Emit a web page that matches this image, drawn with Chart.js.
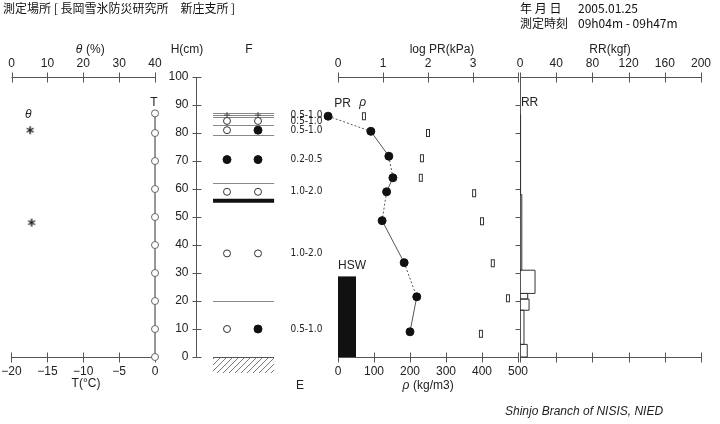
<!DOCTYPE html>
<html lang="ja">
<head>
    <meta charset="UTF-8" />
    <title>積雪断面観測 2005.01.25</title>
    <style>
        body { margin: 0; background: #fff; }
        #wrap { position: relative; width: 720px; height: 424px; }
        .hd { position: absolute; font: 12px "Noto Sans CJK JP", "Liberation Sans", sans-serif; color: #111; line-height: 15px; white-space: pre; }
        .hd span { display: inline-block; width: 58px; }
        #foot { position: absolute; left: 505px; top: 404px; font: italic 12px "Liberation Sans", Arial, sans-serif; color: #222; }
    </style>
</head>
<body>
<div id="wrap">
    <canvas id="snowChart" width="720" height="424"></canvas>
    <div class="hd" style="left:3px; top:0px;">測定場所 [ 長岡雪氷防災研究所　新庄支所 ]</div>
    <div class="hd" style="left:520px; top:0px;"><span>年 月 日</span>2005.01.25<br><span>測定時刻</span>09h04m - 09h47m</div>
    <div id="foot">Shinjo Branch of NISIS, NIED</div>
</div>

<script src="https://cdn.jsdelivr.net/npm/chart.js@4.4.1/dist/chart.umd.min.js"></script>
<script>
    // snow temperature (deg C) and water content (%)
    const tempHeights = [87, 80, 70, 60, 50, 40, 30, 20, 10, 0];
    const tempValues = [0, 0, 0, 0, 0, 0, 0, 0, 0, 0];
    const thetaHeights = [81, 48];
    const thetaValues = [5.2, 5.6];

    // grain shape (F) and grain size (mm)
    const grainHeights = [86.4, 84.3, 81, 70.5, 59, 37, 10];
    const grainShape1 = ['plus', 'open', 'open', 'filled', 'open', 'open', 'open'];
    const grainShape2 = ['plus', 'open', 'filled', 'filled', 'open', 'open', 'filled'];
    const grainSizes = ['0.5-1.0', '0.5-1.0', '0.5-1.0', '0.2-0.5', '1.0-2.0', '1.0-2.0', '0.5-1.0'];
    const layerLines = [87.2, 86.4, 85.6, 83.0, 79.2, 62.0, 20.0];
    const crustLine = 55.8;

    // push resistance (log kPa) and density (kg/m3)
    const prHeights = [86, 80.6, 71.7, 64, 59, 48.7, 33.7, 21.5, 9];
    const prValues = [-0.22, 0.73, 1.13, 1.22, 1.08, 0.98, 1.47, 1.75, 1.6];
    const rhoHeights = [86, 80, 71, 64, 58.5, 48.5, 33.5, 21, 8.3];
    const rhoValues = [72, 250, 233, 230, 378, 400, 430, 472, 397];
    const hswHeight = 28.6;
    const hswValue = 50;

    // ram resistance (kgf)
    const rrBottom = [0, 4.5, 16.7, 20.7, 22.7, 31, 58];
    const rrTop = [4.5, 16.7, 20.7, 22.7, 31, 58, 86.7];
    const rrValues = [8, 4.4, 10, 8.5, 16.6, 2, 1];

    // tick labels
    const thetaTicks = [0, 10, 20, 30, 40];
    const tempTicks = [-20, -15, -10, -5, 0];
    const heightTicks = [0, 10, 20, 30, 40, 50, 60, 70, 80, 90, 100];
    const prTicks = [0, 1, 2, 3, 4];
    const rhoTicks = [0, 100, 200, 300, 400, 500];
    const rrTicks = [0, 40, 80, 120, 160, 200];

    const AREA = { left: 10, right: 710 };
    // min/max of an x scale so that value v0 lands on pixel p0 and v1 on p1
    function span(v0, p0, v1, p1) {
        const k = (v1 - v0) / (p1 - p0);
        return { min: v0 + (AREA.left - p0) * k, max: v0 + (AREA.right - p0) * k };
    }

    const FONT = '"Liberation Sans", Arial, sans-serif';
    const INK = '#222';

    // small upright rectangle used for density marks
    const rhoMark = document.createElement('canvas');
    rhoMark.width = 6;
    rhoMark.height = 10;
    const rc = rhoMark.getContext('2d');
    rc.strokeStyle = '#333';
    rc.lineWidth = 1;
    rc.strokeRect(1.5, 1.5, 3, 7);

    // six-armed asterisk used for water content
    const starMark = document.createElement('canvas');
    starMark.width = 10;
    starMark.height = 10;
    const sc = starMark.getContext('2d');
    sc.strokeStyle = '#222';
    sc.lineWidth = 1.4;
    sc.beginPath();
    for (let a = 0; a < 3; a++) {
        const ang = Math.PI / 2 + a * Math.PI / 3;
        sc.moveTo(5 + 4 * Math.cos(ang), 5 + 4 * Math.sin(ang));
        sc.lineTo(5 - 4 * Math.cos(ang), 5 - 4 * Math.sin(ang));
    }
    sc.stroke();

    function grainPoints(kind) {
        const pts = [];
        grainHeights.forEach((h, i) => {
            if (grainShape1[i] === kind) pts.push({ x: 1, y: h });
            if (grainShape2[i] === kind) pts.push({ x: 2, y: h });
        });
        return pts;
    }

    const rrPoints = [];
    rrValues.forEach((v, i) => {
        rrPoints.push({ x: 0, y: rrBottom[i] }, { x: v, y: rrBottom[i] }, { x: v, y: rrTop[i] }, { x: 0, y: rrTop[i] });
        rrPoints.push({ x: null, y: null });
    });

    function text(ctx, str, x, y, align, font) {
        ctx.font = font || ('12px ' + FONT);
        ctx.textAlign = align || 'center';
        ctx.textBaseline = 'middle';
        ctx.fillText(str, x, y);
    }

    const axesPlugin = {
        id: 'snowAxes',
        beforeDatasetsDraw(chart) {
            const { ctx, scales } = chart;
            const yS = scales.y;
            const top = yS.getPixelForValue(100);
            const bottom = yS.getPixelForValue(0);

            ctx.save();
            ctx.strokeStyle = '#555';
            ctx.fillStyle = INK;
            ctx.lineWidth = 1;

            function hAxis(id, yPix, ticks, labels, from, to, above) {
                const s = scales[id];
                ctx.beginPath();
                ctx.moveTo(s.getPixelForValue(from), yPix);
                ctx.lineTo(s.getPixelForValue(to), yPix);
                ticks.forEach(t => {
                    const px = Math.round(s.getPixelForValue(t)) + 0.5;
                    ctx.moveTo(px, yPix - 5);
                    ctx.lineTo(px, yPix + 5);
                });
                ctx.stroke();
                if (labels) {
                    ticks.forEach((t, i) => {
                        if (labels[i] !== '') text(ctx, labels[i], s.getPixelForValue(t), above ? yPix - 14 : yPix + 14);
                    });
                }
            }

            const yTop = Math.round(top) + 0.5;
            const yBot = Math.round(bottom) + 0.5;
            hAxis('xTheta', yTop, thetaTicks, thetaTicks.map(String), 0, 40, true);
            hAxis('xT', yBot, tempTicks, tempTicks.map(t => String(t).replace('-', '\u2212')), -20, 0, false);
            hAxis('xPR', yTop, prTicks, ['0', '1', '2', '3', ''], 0, 4, true);
            hAxis('xRR', yTop, rrTicks, rrTicks.map(String), 0, 200, true);
            hAxis('xRho', yBot, rhoTicks, rhoTicks.map(String), 0, 500, false);
            hAxis('xRR', yBot, rrTicks, null, 0, 200, false);

            // H axis
            const hx = Math.round(scales.xF.getPixelForValue(0)) + 0.5;
            ctx.beginPath();
            ctx.moveTo(hx, top);
            ctx.lineTo(hx, bottom);
            heightTicks.forEach(h => {
                const py = Math.round(yS.getPixelForValue(h)) + 0.5;
                ctx.moveTo(hx - 4, py);
                ctx.lineTo(hx + 5, py);
            });
            ctx.stroke();
            heightTicks.forEach(h => text(ctx, String(h), hx - 8, yS.getPixelForValue(h), 'right'));

            // RR vertical axis
            const rx = Math.round(scales.xRR.getPixelForValue(0)) + 0.5;
            ctx.beginPath();
            ctx.moveTo(rx, top);
            ctx.lineTo(rx, bottom);
            heightTicks.slice(1, -1).forEach(h => {
                const py = Math.round(yS.getPixelForValue(h)) + 0.5;
                ctx.moveTo(rx - 5, py);
                ctx.lineTo(rx, py);
            });
            ctx.stroke();

            // layer boundaries
            const fx0 = scales.xF.getPixelForValue(0.55);
            const fx1 = scales.xF.getPixelForValue(2.52);
            ctx.strokeStyle = '#888';
            ctx.beginPath();
            layerLines.forEach(h => {
                const py = Math.round(yS.getPixelForValue(h)) + 0.5;
                ctx.moveTo(fx0, py);
                ctx.lineTo(fx1, py);
            });
            ctx.stroke();
            ctx.strokeStyle = '#111';
            ctx.lineWidth = 4;
            ctx.beginPath();
            ctx.moveTo(fx0, yS.getPixelForValue(crustLine));
            ctx.lineTo(fx1, yS.getPixelForValue(crustLine));
            ctx.stroke();

            // ground hatch
            ctx.save();
            ctx.beginPath();
            ctx.rect(fx0, bottom, fx1 - fx0, 16);
            ctx.clip();
            ctx.strokeStyle = '#666';
            ctx.lineWidth = 0.9;
            ctx.beginPath();
            for (let x = fx0 - 20; x < fx1 + 20; x += 6) {
                ctx.moveTo(x, bottom + 16);
                ctx.lineTo(x + 16, bottom);
            }
            ctx.stroke();
            ctx.restore();
            ctx.strokeStyle = '#555';
            ctx.lineWidth = 1;
            ctx.beginPath();
            ctx.moveTo(fx0, Math.round(bottom) + 0.5);
            ctx.lineTo(fx1, Math.round(bottom) + 0.5);
            ctx.stroke();

            // grain sizes
            ctx.fillStyle = INK;
            const gx = scales.xF.getPixelForValue(3.05);
            grainSizes.forEach((g, i) => {
                text(ctx, g, gx, yS.getPixelForValue(grainHeights[i]), 'left', '10px "Liberation Sans Narrow", "DejaVu Sans Condensed", sans-serif');
            });

            // axis titles
            text(ctx, 'θ', 79, 50, 'center', 'italic 12px ' + FONT);
            text(ctx, '(%)', 86, 50, 'left');
            text(ctx, 'H(cm)', 187, 50);
            text(ctx, 'F', 249, 50);
            text(ctx, 'log PR(kPa)', 442, 50);
            text(ctx, 'RR(kgf)', 610, 50);
            text(ctx, 'T(°C)', 86, 384);
            text(ctx, 'E', 300, 386);
            text(ctx, 'ρ', 406, 386, 'center', 'italic 12px ' + FONT);
            text(ctx, '(kg/m3)', 413, 386, 'left');

            // series labels
            const at = (id, v, h) => [scales[id].getPixelForValue(v), yS.getPixelForValue(h)];
            let p;
            p = at('xT', 0, 90.8); text(ctx, 'T', p[0] - 1, p[1]);
            p = at('xTheta', 4.7, 86.4); text(ctx, 'θ', p[0], p[1], 'center', 'italic 12px ' + FONT);
            p = at('xPR', 0.1, 90.5); text(ctx, 'PR', p[0], p[1]);
            p = at('xPR', 0.55, 90.8); text(ctx, 'ρ', p[0], p[1], 'center', 'italic 12px ' + FONT);
            p = at('xRho', 0, 32.5); text(ctx, 'HSW', p[0], p[1], 'left');
            p = at('xRR', 1, 90.8); text(ctx, 'RR', p[0], p[1], 'left');

            ctx.restore();
        }
    };

    const ctx = document.getElementById('snowChart').getContext('2d');
    new Chart(ctx, {
        type: 'scatter',
        data: {
            datasets: [
                {
                    label: 'T',
                    xAxisID: 'xT',
                    data: tempHeights.map((h, i) => ({ x: tempValues[i], y: h })),
                    showLine: true,
                    borderColor: '#888',
                    borderWidth: 1,
                    pointStyle: 'circle',
                    pointRadius: 3.5,
                    pointBorderColor: '#666',
                    pointBackgroundColor: '#fff',
                    pointBorderWidth: 1
                },
                {
                    label: 'θ',
                    xAxisID: 'xTheta',
                    data: thetaHeights.map((h, i) => ({ x: thetaValues[i], y: h })),
                    pointStyle: starMark
                },
                {
                    label: 'F open',
                    xAxisID: 'xF',
                    data: grainPoints('open'),
                    pointRadius: 3.5,
                    pointBorderColor: '#333',
                    pointBackgroundColor: '#fff',
                    pointBorderWidth: 1
                },
                {
                    label: 'F filled',
                    xAxisID: 'xF',
                    data: grainPoints('filled'),
                    pointRadius: 4,
                    pointBorderColor: '#111',
                    pointBackgroundColor: '#111'
                },
                {
                    label: 'F plus',
                    xAxisID: 'xF',
                    data: grainPoints('plus'),
                    pointStyle: 'cross',
                    pointRadius: 3,
                    pointBorderColor: '#444',
                    pointBorderWidth: 1
                },
                {
                    label: 'HSW',
                    xAxisID: 'xRho',
                    data: [{ x: 0, y: hswHeight }, { x: hswValue, y: hswHeight }],
                    showLine: true,
                    fill: 'origin',
                    borderColor: '#111',
                    backgroundColor: '#111',
                    borderWidth: 1,
                    pointRadius: 0
                },
                {
                    label: 'PR',
                    xAxisID: 'xPR',
                    data: prHeights.map((h, i) => ({ x: prValues[i], y: h })),
                    showLine: true,
                    borderColor: '#555',
                    borderWidth: 1,
                    segment: {
                        borderDash: c => (c.p0DataIndex % 2 === 0 ? [2, 2] : undefined)
                    },
                    pointRadius: 4,
                    pointBorderColor: '#111',
                    pointBackgroundColor: '#111'
                },
                {
                    label: 'ρ',
                    xAxisID: 'xRho',
                    data: rhoHeights.map((h, i) => ({ x: rhoValues[i], y: h })),
                    pointStyle: rhoMark
                },
                {
                    label: 'RR',
                    xAxisID: 'xRR',
                    data: rrPoints,
                    showLine: true,
                    spanGaps: false,
                    borderColor: '#333',
                    borderWidth: 1,
                    pointRadius: 0
                }
            ]
        },
        options: {
            responsive: false,
            animation: false,
            clip: false,
            layout: { padding: { left: AREA.left, right: 720 - AREA.right, top: 77, bottom: 67 } },
            plugins: { legend: { display: false }, tooltip: { enabled: false } },
            scales: {
                x: { display: false },
                y: { type: 'linear', min: 0, max: 100, display: false },
                xTheta: { type: 'linear', display: false, ...span(0, 11.5, 40, 155) },
                xT: { type: 'linear', display: false, ...span(-20, 11.5, 0, 155) },
                xF: { type: 'linear', display: false, ...span(1, 227, 2, 258) },
                xPR: { type: 'linear', display: false, ...span(0, 338, 1, 383) },
                xRho: { type: 'linear', display: false, ...span(0, 338, 500, 518) },
                xRR: { type: 'linear', display: false, ...span(0, 520, 200, 701) }
            }
        },
        plugins: [axesPlugin]
    });
</script>
</body>
</html>
